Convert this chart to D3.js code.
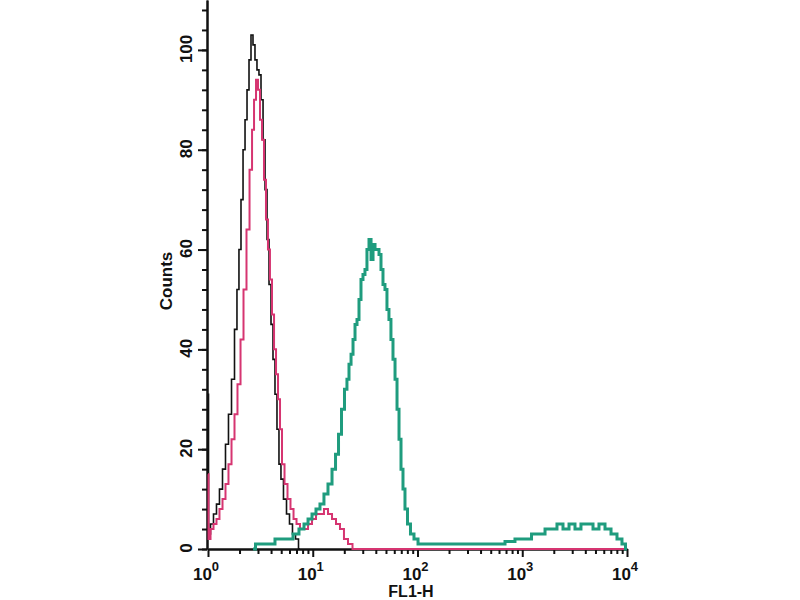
<!DOCTYPE html>
<html>
<head>
<meta charset="utf-8">
<script src="https://cdn.jsdelivr.net/npm/d3@7"></script>
<style>
  body { margin: 0; background: #fff; }
  text { font-family: "Liberation Sans", Arial, sans-serif; font-weight: bold; fill: #111; }
</style>
</head>
<body>
<svg id="chart" width="800" height="600"></svg>
<script>
// x values are log10(FL1-H), y values are counts
var black = [[0.000,31],[0.010,3],[0.038,5],[0.067,7],[0.095,9],[0.124,12],[0.153,16],[0.181,21],[0.210,27],[0.239,34],[0.267,44],[0.286,52],[0.305,60],[0.325,70],[0.344,80],[0.363,86],[0.382,92],[0.401,98],[0.420,103],[0.439,101],[0.458,98],[0.477,96],[0.496,95],[0.516,90],[0.535,82],[0.554,72],[0.573,62],[0.592,53],[0.611,45],[0.630,38],[0.649,31],[0.668,24],[0.687,17],[0.706,14],[0.735,10],[0.764,7],[0.792,5],[0.821,3],[0.850,2],[0.878,0]]

var pink = [[0.000,15],[0.010,2],[0.038,4],[0.067,5],[0.095,6],[0.124,8],[0.153,10],[0.181,13],[0.210,17],[0.239,22],[0.267,27],[0.296,33],[0.325,42],[0.353,52],[0.382,64],[0.411,76],[0.430,84],[0.449,90],[0.468,94],[0.487,92],[0.506,86],[0.525,82],[0.544,74],[0.563,66],[0.582,60],[0.601,54],[0.621,47],[0.640,40],[0.659,35],[0.678,30],[0.697,24],[0.716,17],[0.745,13],[0.773,10],[0.802,8],[0.831,6],[0.859,5],[0.897,4],[0.936,4],[0.974,5],[1.012,6],[1.050,7],[1.088,7],[1.126,8],[1.165,7],[1.203,6],[1.241,5],[1.279,4],[1.317,2],[1.356,1],[1.403,0],[4.000,0]]

var teal = [[0.430,0],[0.477,1],[0.544,1],[0.611,1],[0.668,2],[0.726,2],[0.783,2],[0.840,3],[0.897,4],[0.936,5],[0.974,6],[1.012,7],[1.050,8],[1.088,9],[1.126,11],[1.165,13],[1.203,16],[1.232,19],[1.260,23],[1.289,28],[1.317,32],[1.336,34],[1.356,37],[1.375,39],[1.394,42],[1.413,45],[1.432,46],[1.451,50],[1.470,54],[1.489,55],[1.508,56],[1.527,60],[1.547,62],[1.566,58],[1.585,61],[1.604,60],[1.623,60],[1.642,59],[1.661,56],[1.680,53],[1.699,52],[1.718,48],[1.737,46],[1.756,42],[1.776,38],[1.795,34],[1.814,28],[1.833,22],[1.852,16],[1.871,12],[1.890,8],[1.919,5],[1.947,3],[1.986,2],[2.024,1],[2.119,1],[2.215,1],[2.310,1],[2.406,1],[2.501,1],[2.597,1],[2.692,1],[2.788,1],[2.883,1.5],[2.978,2],[3.055,2],[3.122,3],[3.189,3],[3.246,4],[3.303,4],[3.360,5],[3.418,4],[3.475,5],[3.532,4],[3.589,5],[3.647,5],[3.704,4],[3.761,5],[3.819,4],[3.876,3],[3.933,2],[3.971,1],[4.000,0]]

var decades = [0, 1, 2, 3, 4]
var yMajor = [0, 20, 40, 60, 80, 100]

var svg = d3.select('#chart')

var x = d3.scaleLinear().domain([0, 4]).range([208, 627])
var y = d3.scaleLinear().domain([0, 110]).range([549, 0])

// minor ticks: log10 of 2..9 in each decade
var xMinor = []
decades.slice(0, 4).forEach(d => d3.range(2, 10).forEach(k => xMinor.push(d + Math.log10(k))))

var xg = svg.append('g').attr('transform', 'translate(0,549)')
xg.call(d3.axisBottom(x).tickValues(xMinor).tickSize(5).tickSizeOuter(0).tickFormat(''))
xg.append('g').call(d3.axisBottom(x).tickValues(decades).tickSize(8).tickSizeOuter(0).tickFormat(''))
xg.selectAll('path, line').attr('stroke', '#111').attr('stroke-width', 2)

var lab = xg.selectAll('.dec').data(decades).join('text')
  .attr('class', 'dec')
  .attr('x', d => x(d) - 2)
  .attr('y', 31)
  .attr('text-anchor', 'middle')
  .style('font-size', '17px')
lab.append('tspan').text('10')
lab.append('tspan').attr('dy', -9).style('font-size', '13px').text(d => d)

svg.append('text')
  .attr('x', 411).attr('y', 597)
  .attr('text-anchor', 'middle')
  .style('font-size', '16px')
  .text('FL1-H')

var yg = svg.append('g').attr('transform', 'translate(207,0)')
yg.call(d3.axisLeft(y).tickValues(d3.range(0, 109, 4)).tickSize(5).tickSizeOuter(0).tickFormat(''))
yg.append('g').call(d3.axisLeft(y).tickValues(yMajor).tickSize(9).tickSizeOuter(0).tickFormat(''))
yg.selectAll('path, line').attr('stroke', '#111').attr('stroke-width', 2)

svg.selectAll('.ylab').data(yMajor).join('text')
  .attr('class', 'ylab')
  .attr('transform', d => 'translate(192,' + (y(d) - 1) + ') rotate(-90)')
  .attr('text-anchor', 'middle')
  .style('font-size', '17px')
  .text(d => d)

svg.append('text')
  .attr('transform', 'translate(172,281) rotate(-90)')
  .attr('text-anchor', 'middle')
  .style('font-size', '17px')
  .text('Counts')

var line = d3.line()
  .x(d => x(d[0]))
  .y(d => y(d[1]))
  .curve(d3.curveStep)

svg.append('path').datum(black)
  .attr('d', line).attr('fill', 'none').attr('stroke', '#111').attr('stroke-width', 1.6)
svg.append('path').datum(pink)
  .attr('d', line).attr('fill', 'none').attr('stroke', '#d63571').attr('stroke-width', 2)
svg.append('path').datum(teal)
  .attr('d', line).attr('fill', 'none').attr('stroke', '#1f9c7e').attr('stroke-width', 3)
</script>
</body>
</html>
